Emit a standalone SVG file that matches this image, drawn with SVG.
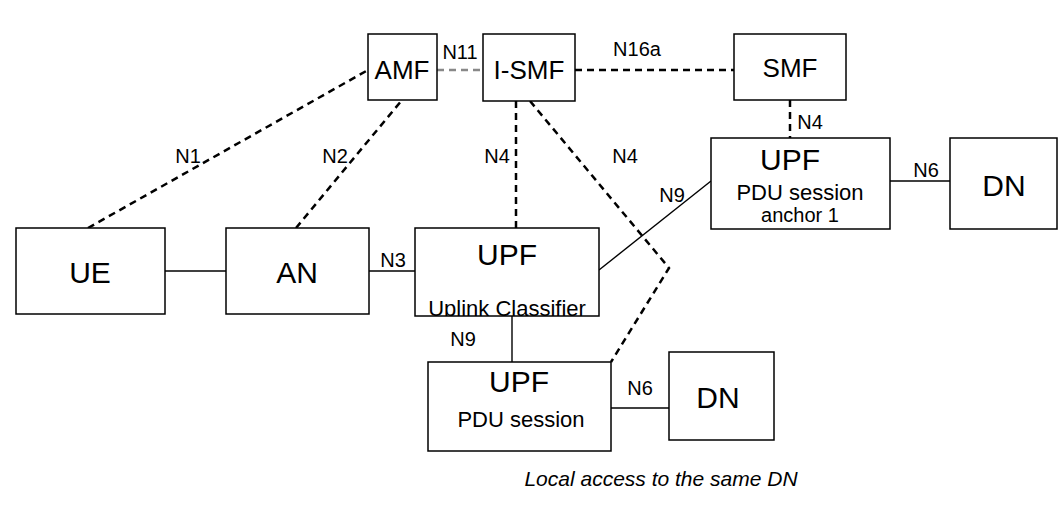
<svg xmlns="http://www.w3.org/2000/svg" width="1063" height="512" viewBox="0 0 1063 512">
<style>
text{font-family:"Liberation Sans",Arial,sans-serif;fill:#000}
.b{fill:#fff;stroke:#000;stroke-width:1.5}
.s{stroke:#000;stroke-width:1.4;fill:none}
.d{stroke:#000;stroke-width:2.5;stroke-dasharray:7,5;fill:none}
.l{font-size:20px;text-anchor:middle}
.m{font-size:22px;text-anchor:middle}
.f{font-size:26px;text-anchor:middle}
.n{font-size:30px;text-anchor:middle}
</style>
<defs><clipPath id="c"><rect x="415" y="228" width="184" height="88"/></clipPath></defs>
<g id="connectors">
<line class="s" x1="165" y1="271" x2="226" y2="271"/>
<line class="s" x1="369" y1="271" x2="415" y2="271"/>
<line class="s" x1="512" y1="316" x2="512" y2="362"/>
<line class="s" x1="611" y1="408" x2="669" y2="408"/>
<line class="s" x1="890" y1="181" x2="950" y2="181"/>
<line class="s" x1="599" y1="270" x2="711" y2="181"/>
<line class="d" x1="88" y1="228" x2="368" y2="70"/>
<line class="d" x1="296" y1="228" x2="402" y2="100"/>
<line class="d" x1="437" y1="70" x2="483" y2="70" style="stroke:#888"/>
<line class="d" x1="575" y1="70" x2="734" y2="70"/>
<line class="d" x1="516" y1="101" x2="516" y2="228"/>
<polyline class="d" points="530,101 669,268 611,362"/>
<line class="d" x1="790" y1="100" x2="790" y2="138"/>
<text class="l" x="188" y="163">N1</text>
<text class="l" x="335" y="163">N2</text>
<text class="l" x="460" y="59">N11</text>
<text class="l" x="637" y="56">N16a</text>
<text class="l" x="497" y="163">N4</text>
<text class="l" x="625" y="163">N4</text>
<text class="l" x="810" y="129">N4</text>
<text class="l" x="672" y="202">N9</text>
<text class="l" x="393" y="267">N3</text>
<text class="l" x="463" y="346">N9</text>
<text class="l" x="640" y="395">N6</text>
<text class="l" x="926" y="177">N6</text>
</g>
<g id="AMF"><rect class="b" x="368" y="34" width="69" height="66"/><text class="f" x="402" y="79">AMF</text></g>
<g id="ISMF"><rect class="b" x="483" y="34" width="92" height="67"/><text class="f" x="529" y="79">I-SMF</text></g>
<g id="SMF"><rect class="b" x="734" y="34" width="112" height="66"/><text class="f" x="790" y="77">SMF</text></g>
<g id="UPFA"><rect class="b" x="711" y="138" width="179" height="91"/><text class="n" x="790" y="170">UPF</text><text class="m" x="800" y="200">PDU session</text><text class="l" x="800" y="222">anchor 1</text></g>
<g id="DN1"><rect class="b" x="950" y="138" width="107" height="91"/><text class="n" x="1004" y="196">DN</text></g>
<g id="UE"><rect class="b" x="16" y="228" width="149" height="86"/><text class="n" x="90" y="283">UE</text></g>
<g id="AN"><rect class="b" x="226" y="228" width="143" height="86"/><text class="n" x="297" y="283">AN</text></g>
<g id="UPFUL"><rect class="b" x="415" y="228" width="184" height="88"/><text class="n" x="507" y="265">UPF</text><text class="m" x="507" y="316" clip-path="url(#c)">Uplink Classifier</text></g>
<g id="UPFP"><rect class="b" x="428" y="362" width="183" height="89"/><text class="n" x="519" y="392">UPF</text><text class="m" x="521" y="427">PDU session</text></g>
<g id="DN2"><rect class="b" x="669" y="352" width="105" height="88"/><text class="n" x="718" y="408">DN</text></g>
<text x="661" y="486" style="font-size:21px;font-style:italic;text-anchor:middle">Local access to the same DN</text>
</svg>
